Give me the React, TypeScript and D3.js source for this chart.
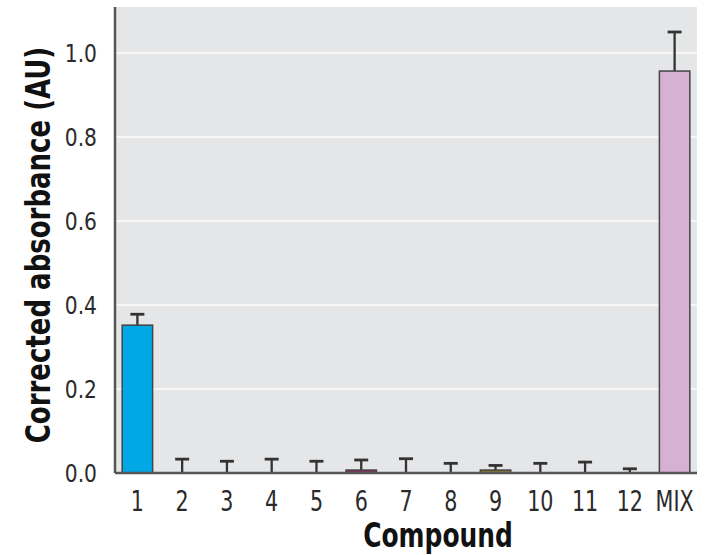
import React from "react";
import * as d3 from "d3";

const categories = ["1", "2", "3", "4", "5", "6", "7", "8", "9", "10", "11", "12", "MIX"];
const values = [0.352, 0, 0, 0, 0, 0.007, 0, 0, 0.007, 0, 0, 0, 0.957];
const errors = [0.026, 0.033, 0.028, 0.033, 0.028, 0.024, 0.034, 0.023, 0.011, 0.023, 0.026, 0.01, 0.093];
const barColors = ["#00a9e6", "#d9d9d9", "#d9d9d9", "#d9d9d9", "#d9d9d9", "#8c2a62", "#d9d9d9", "#d9d9d9", "#8a7b2c", "#d9d9d9", "#d9d9d9", "#d9d9d9", "#d6b1d3"];
const yTicks = [0, 0.2, 0.4, 0.6, 0.8, 1.0];

const W = 711, H = 555;
const left = 115, right = 697, top = 7, bottom = 473;
const FONT = "'DejaVu Sans Condensed', 'DejaVu Sans', sans-serif";

export default function App() {
  const x = d3.scaleBand<string>().domain(categories).range([left, right]).paddingInner(0.32).paddingOuter(0.16);
  const y = d3.scaleLinear().domain([0, 1]).range([bottom, 53]);
  const capW = 14;
  return (
    <svg width={W} height={H} style={{ position: "absolute", left: 0, top: 0, background: "#fff" }}>
      <rect x={left} y={top} width={right - left} height={bottom - top} fill="#e5e6e8" />
      {yTicks.filter((t) => t > 0).map((t) => (
        <line key={t} x1={left} x2={right} y1={y(t)} y2={y(t)} stroke="#f7f7f8" strokeWidth={2} />
      ))}
      {categories.map((c, i) => {
        const bx = x(c)!;
        const bw = x.bandwidth();
        const cx = bx + bw / 2;
        const v = values[i];
        const e = errors[i];
        return (
          <g key={c}>
            <line x1={cx} x2={cx} y1={y(v)} y2={y(v + e)} stroke="#333" strokeWidth={2.3} />
            <line x1={cx - capW / 2} x2={cx + capW / 2} y1={y(v + e)} y2={y(v + e)} stroke="#333" strokeWidth={2.8} />
            {v > 0 && (
              <rect x={bx} y={y(v)} width={bw} height={Math.max(y(0) - y(v), 0)} fill={barColors[i]} stroke="#444" strokeWidth={1.5} />
            )}
            <text transform={`translate(${cx},511) scale(0.82,1)`} textAnchor="middle" fontFamily={FONT} fontSize={28} fill="#2a2a2a">{c}</text>
          </g>
        );
      })}
      <line x1={left} x2={right} y1={bottom} y2={bottom} stroke="#555" strokeWidth={2.5} />
      <line x1={left} x2={left} y1={top} y2={bottom} stroke="#555" strokeWidth={2.5} />
      {yTicks.map((t) => (
        <text key={t} transform={`translate(97,${y(t)}) scale(0.9,1)`} dy="0.36em" textAnchor="end" fontFamily={FONT} fontSize={25} fill="#2a2a2a">{t.toFixed(1)}</text>
      ))}
      <text transform={`translate(50,245) rotate(-90) scale(0.85,1)`} textAnchor="middle" fontFamily={FONT} fontWeight="bold" fontSize={34} fill="#111">Corrected absorbance (AU)</text>
      <text transform={`translate(438,547) scale(0.84,1)`} textAnchor="middle" fontFamily={FONT} fontWeight="bold" fontSize={33} fill="#111">Compound</text>
    </svg>
  );
}
